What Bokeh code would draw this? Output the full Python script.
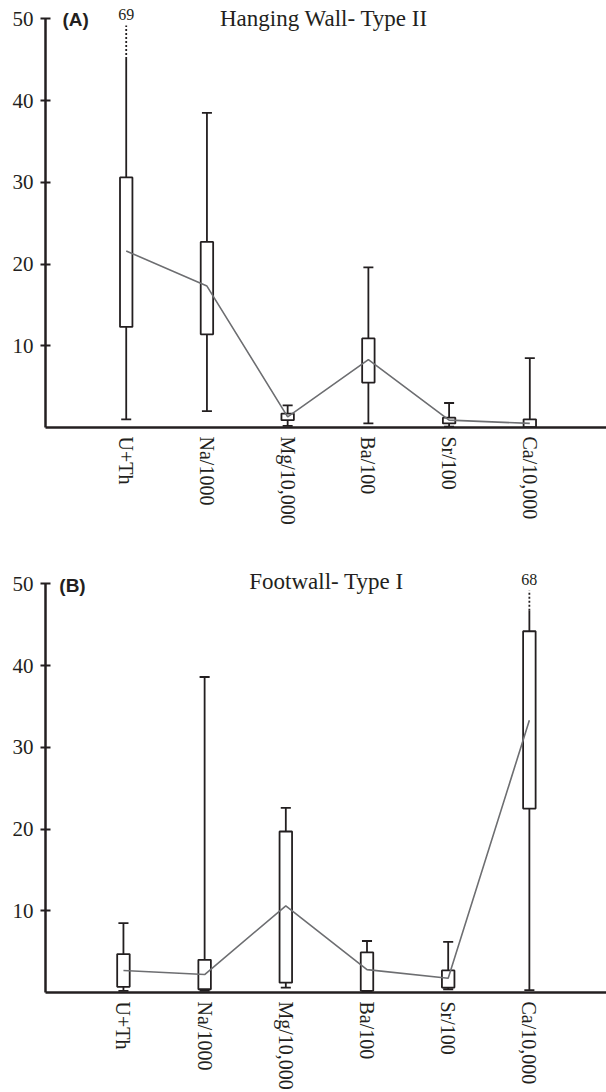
import math
from bokeh.plotting import figure
from bokeh.layouts import column
from bokeh.models import FixedTicker, Label, Range1d
from bokeh.embed import file_html
from bokeh.resources import INLINE

categories = ["U+Th", "Na/1000", "Mg/10,000", "Ba/100", "Sr/100", "Ca/10,000"]
y_ticks = [10, 20, 30, 40, 50]

# Panel A: Hanging Wall - Type II
a_low = [1.0, 2.0, 0.2, 0.5, 0.1, 0.0]
a_q1 = [12.3, 11.4, 0.9, 5.5, 0.5, 0.05]
a_q3 = [30.6, 22.7, 1.7, 10.9, 1.2, 1.0]
a_high = [45.1, 38.5, 2.7, 19.6, 3.0, 8.5]
a_mean = [21.6, 17.3, 1.3, 8.3, 0.9, 0.5]
a_max = [69, None, None, None, None, None]

# Panel B: Footwall - Type I
b_low = [0.2, 0.2, 0.6, 0.1, 0.4, 0.3]
b_q1 = [0.7, 0.4, 1.2, 0.2, 0.6, 22.5]
b_q3 = [4.7, 4.0, 19.7, 4.9, 2.7, 44.2]
b_high = [8.5, 38.6, 22.6, 6.3, 6.2, 46.7]
b_mean = [2.7, 2.2, 10.6, 2.8, 1.75, 33.3]
b_max = [None, None, None, None, None, 68]

SERIF = "Liberation Serif"
INK = "#231f20"
GREY = "#6d6e71"
BOX_HALF = 0.077
CAP_HALF = 0.062
BREAK_TOP = 49.2


def panel(tag, title, low, q1, q3, high, mean, vmax, height, top_border,
          bottom_border, left_border, x_start, title_x, tag_y, title_y):
    p = figure(width=606, height=height, x_range=Range1d(x_start, 6.95),
               y_range=Range1d(0, 52), output_backend="svg",
               toolbar_location=None, min_border_left=left_border,
               min_border_right=0, min_border_top=top_border,
               min_border_bottom=bottom_border, outline_line_color=None)
    p.grid.visible = False

    xs = [i + 1 for i in range(len(categories))]

    # y axis
    ya = p.yaxis[0]
    ya.ticker = FixedTicker(ticks=y_ticks)
    ya.bounds = (0, 50)
    ya.axis_line_width = 2.5
    ya.axis_line_color = INK
    ya.major_tick_line_width = 1.8
    ya.major_tick_line_color = INK
    ya.major_tick_in = 5
    ya.major_tick_out = 5
    ya.minor_tick_line_color = None
    ya.major_label_text_font = SERIF
    ya.major_label_text_font_size = "21px"
    ya.major_label_text_color = INK
    ya.major_label_standoff = 7

    # x axis
    xa = p.xaxis[0]
    xa.ticker = FixedTicker(ticks=xs)
    xa.major_label_overrides = {x: c for x, c in zip(xs, categories)}
    xa.major_label_orientation = -math.pi / 2
    xa.axis_line_width = 2.5
    xa.axis_line_color = INK
    xa.major_tick_line_color = None
    xa.major_tick_in = 0
    xa.major_tick_out = 0
    xa.minor_tick_line_color = None
    xa.major_label_text_font = SERIF
    xa.major_label_text_font_size = "20px"
    xa.major_label_text_color = INK
    xa.major_label_standoff = 9

    # whiskers
    p.segment(x0=xs, y0=q3, x1=xs, y1=high, line_color=INK, line_width=1.8)
    p.segment(x0=xs, y0=low, x1=xs, y1=q1, line_color=INK, line_width=1.8)
    cap_x = [x for x, m in zip(xs, vmax) if m is None]
    cap_y = [h for h, m in zip(high, vmax) if m is None]
    p.segment(x0=[x - CAP_HALF for x in cap_x], y0=cap_y,
              x1=[x + CAP_HALF for x in cap_x], y1=cap_y,
              line_color=INK, line_width=1.8)
    p.segment(x0=[x - CAP_HALF for x in xs], y0=low,
              x1=[x + CAP_HALF for x in xs], y1=low,
              line_color=INK, line_width=1.8)

    # broken whiskers to off-scale maxima
    for x, h, m in zip(xs, high, vmax):
        if m is not None:
            p.segment(x0=[x], y0=[h], x1=[x], y1=[BREAK_TOP], line_color=INK,
                      line_width=1.8, line_dash="2 2")
            p.add_layout(Label(x=x, y=50.5, text=str(m), text_align="center",
                               text_baseline="middle", text_font=SERIF,
                               text_font_size="16px", text_color=INK))

    # boxes
    p.quad(left=[x - BOX_HALF for x in xs], right=[x + BOX_HALF for x in xs],
           bottom=q1, top=q3, fill_color="white", line_color=INK,
           line_width=1.8)

    # mean line
    p.line(x=xs, y=mean, line_color=GREY, line_width=1.6)

    p.add_layout(Label(x=0.21, y=tag_y, text=tag, text_align="left",
                       text_baseline="middle", text_font="Liberation Sans",
                       text_font_style="bold", text_font_size="19px",
                       text_color=INK))
    p.add_layout(Label(x=title_x, y=title_y, text=title, text_align="center",
                       text_baseline="middle", text_font=SERIF,
                       text_font_size="23px", text_color=INK))
    return p


pa = panel("(A)", "Hanging Wall- Type II", a_low, a_q1, a_q3, a_high, a_mean,
           a_max, height=540, top_border=2, bottom_border=113, left_border=42,
           x_start=0.0, title_x=3.45, tag_y=49.9, title_y=50.0)
pb = panel("(B)", "Footwall- Type I", b_low, b_q1, b_q3, b_high, b_mean,
           b_max, height=552, top_border=27, bottom_border=100, left_border=45,
           x_start=0.04, title_x=3.50, tag_y=49.8, title_y=50.3)

layout = column(pa, pb)
open("out.html", "w").write(file_html(layout, INLINE))
